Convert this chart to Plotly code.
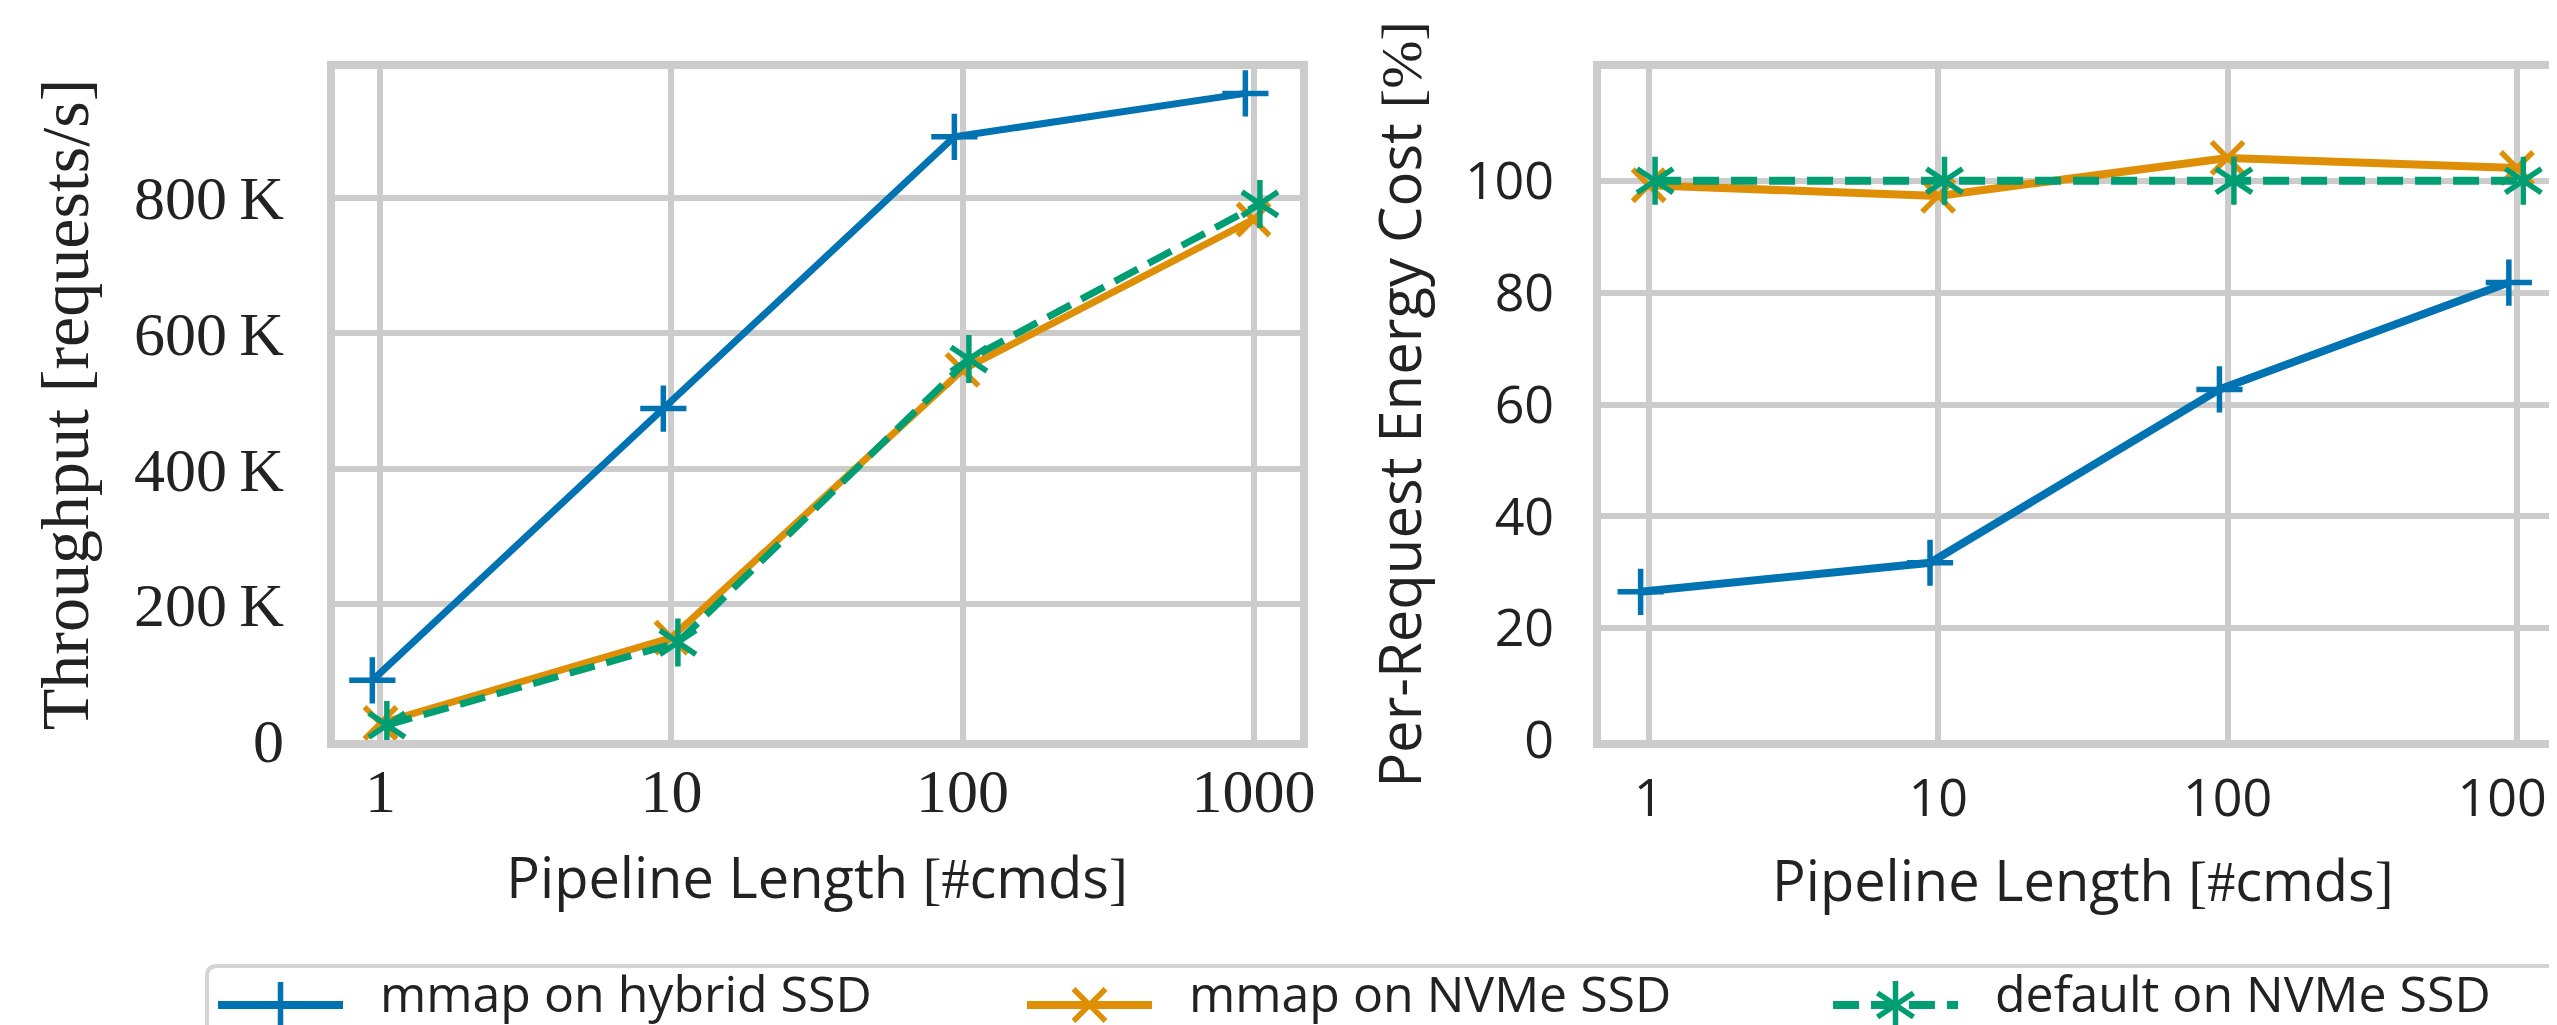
import plotly.graph_objects as go

W, H = 2557, 1025

# ---------------- data ----------------
pipeline_lengths = [1, 10, 100, 1000]
pipeline_tick_labels = ["1", "10", "100", "1000"]

series_names = ["mmap on hybrid SSD", "mmap on NVMe SSD", "default on NVMe SSD"]

throughput_mmap_hybrid = [88e3, 489e3, 890e3, 954e3]
throughput_mmap_nvme = [25e3, 151e3, 546e3, 768e3]
throughput_default_nvme = [22e3, 144e3, 562e3, 791e3]
throughput_ticks = [0, 200e3, 400e3, 600e3, 800e3]
throughput_tick_labels = ["0", "200\u2009K", "400\u2009K", "600\u2009K", "800\u2009K"]

energy_mmap_hybrid = [26.5, 31.7, 62.7, 81.8]
energy_mmap_nvme = [99.2, 97.3, 104.1, 102.3]
energy_default_nvme = [100, 100, 100, 100]
energy_ticks = [0, 20, 40, 60, 80, 100]
energy_tick_labels = ["0", "20", "40", "60", "80", "100"]

# ---------------- style ----------------
BLUE, ORANGE, GREEN = "#0173b2", "#de8f05", "#029e73"
GRID = "#cccccc"
TEXT = "#222222"
SERIF = "Liberation Serif"
SANS = "Open Sans"

styles = [
    dict(color=BLUE, dash="solid", symbols=["cross-thin-open"], size=33, dodge=-0.028),
    dict(color=ORANGE, dash="solid", symbols=["x-thin-open"], size=32, dodge=0.0),
    dict(color=GREEN, dash="26px,12px", symbols=["y-up-open", "y-down-open"], size=30, dodge=0.022),
]
throughput_series = [throughput_mmap_hybrid, throughput_mmap_nvme, throughput_default_nvme]
energy_series = [energy_mmap_hybrid, energy_mmap_nvme, energy_default_nvme]


def px_x(v):
    return v / W


def px_y(v):
    return 1 - v / H


fig = go.Figure()


def add_series(xs, ys, st, xref, yref, lw):
    xd = [x * 10 ** st["dodge"] for x in xs]
    for k, sym in enumerate(st["symbols"]):
        fig.add_trace(go.Scatter(
            x=xd, y=ys, xaxis=xref, yaxis=yref,
            mode="lines+markers" if k == 0 else "markers",
            line=dict(color=st["color"], width=lw, dash=st["dash"]),
            marker=dict(symbol=sym, size=st["size"], color=st["color"],
                        line=dict(color=st["color"], width=5.5)),
            showlegend=False, hoverinfo="skip",
        ))


for ys, st in zip(throughput_series, styles):
    add_series(pipeline_lengths, ys, st, "x", "y", 7)
for ys, st in zip(energy_series, styles):
    add_series(pipeline_lengths, ys, st, "x2", "y2", 8)

# ---------------- legend (drawn manually for matching sample size) ----------------
leg_y = 997
leg_starts = [210, 1019, 1825]
sample_len = 125
for name, st, x0 in zip(series_names, styles, leg_starts):
    fig.add_trace(go.Scatter(
        x=[x0, x0 + sample_len], y=[leg_y, leg_y], xaxis="x3", yaxis="y3",
        mode="lines", line=dict(color=st["color"], width=8, dash=st["dash"]),
        showlegend=False, hoverinfo="skip"))
    for sym in st["symbols"]:
        fig.add_trace(go.Scatter(
            x=[x0 + sample_len / 2], y=[leg_y], xaxis="x3", yaxis="y3",
            mode="markers",
            marker=dict(symbol=sym, size=st["size"], color=st["color"],
                        line=dict(color=st["color"], width=5.5)),
            showlegend=False, hoverinfo="skip"))
    fig.add_annotation(x=x0 + 160, y=leg_y - 12, xref="x3", yref="y3",
                       text=name, showarrow=False, xanchor="left", yanchor="middle",
                       font=dict(family=SANS, size=50, color=TEXT))

# rounded legend box
bx0, by0, bx1, by1, r = 199, 958, 2551, 1060, 10
fig.add_shape(type="path", xref="x3", yref="y3",
              path=(f"M{bx0},{by1} L{bx0},{by0 + r} Q{bx0},{by0} {bx0 + r},{by0} "
                    f"L{bx1 - r},{by0} Q{bx1},{by0} {bx1},{by0 + r} L{bx1},{by1}"),
              line=dict(color="#d4d4d4", width=4), layer="below")

# ---------------- axes ----------------
top_in, bot_in = 61, 732
ydom = [px_y(bot_in), px_y(top_in)]

serif_span = "<span style=\"font-family:'Liberation Serif'\">{}</span>"
xtitle = "Pipeline Length " + serif_span.format("[#") + "cmds" + serif_span.format("]")

common_axis = dict(showline=True, mirror=True, linecolor=GRID, linewidth=8,
                   showgrid=True, gridcolor=GRID, gridwidth=6, zeroline=False,
                   ticks="", fixedrange=True, automargin=False)

fig.update_layout(
    width=W, height=H, autosize=False,
    margin=dict(l=0, r=0, t=0, b=0, pad=0, autoexpand=False),
    paper_bgcolor="white", plot_bgcolor="rgba(0,0,0,0)",
    showlegend=False,
    xaxis=dict(common_axis, domain=[px_x(326.5), px_x(1291.5)], type="log",
               range=[-0.158, 3.158], tickvals=pipeline_lengths, ticktext=pipeline_tick_labels,
               tickfont=dict(family=SERIF, size=62, color=TEXT), ticklabelstandoff=-10,
               title=dict(text=xtitle, font=dict(family=SANS, size=56, color=TEXT), standoff=37),
               anchor="y"),
    yaxis=dict(common_axis, domain=ydom, range=[0, 990e3],
               tickvals=throughput_ticks, ticktext=throughput_tick_labels,
               tickfont=dict(family=SERIF, size=62, color=TEXT), ticklabelstandoff=30,
               title=dict(text="Throughput [requests/s]", font=dict(family=SERIF, size=68, color=TEXT),
                          standoff=26),
               anchor="x"),
    xaxis2=dict(common_axis, domain=[px_x(1592.5), 1.0], type="log",
                range=[-0.1666, 3.166], tickvals=pipeline_lengths, ticktext=pipeline_tick_labels,
                tickfont=dict(family=SANS, size=52, color=TEXT), ticklabelstandoff=6,
                ticklabeloverflow="allow",
                title=dict(text=xtitle, font=dict(family=SANS, size=56, color=TEXT), standoff=34),
                anchor="y2"),
    yaxis2=dict(common_axis, domain=ydom, range=[0, 120],
                tickvals=energy_ticks, ticktext=energy_tick_labels,
                tickfont=dict(family=SANS, size=52, color=TEXT), ticklabelstandoff=28,
                title=dict(text="Per-Request Energy Cost " + serif_span.format("[%]"),
                           font=dict(family=SANS, size=58, color=TEXT), standoff=28),
                anchor="x2"),
    xaxis3=dict(domain=[0, 1], range=[0, W], visible=False, fixedrange=True, anchor="y3"),
    yaxis3=dict(domain=[0, px_y(950)], range=[H, 950], visible=False, fixedrange=True,
                anchor="x3"),
)

fig.write_html("out.html", config={"responsive": False})
